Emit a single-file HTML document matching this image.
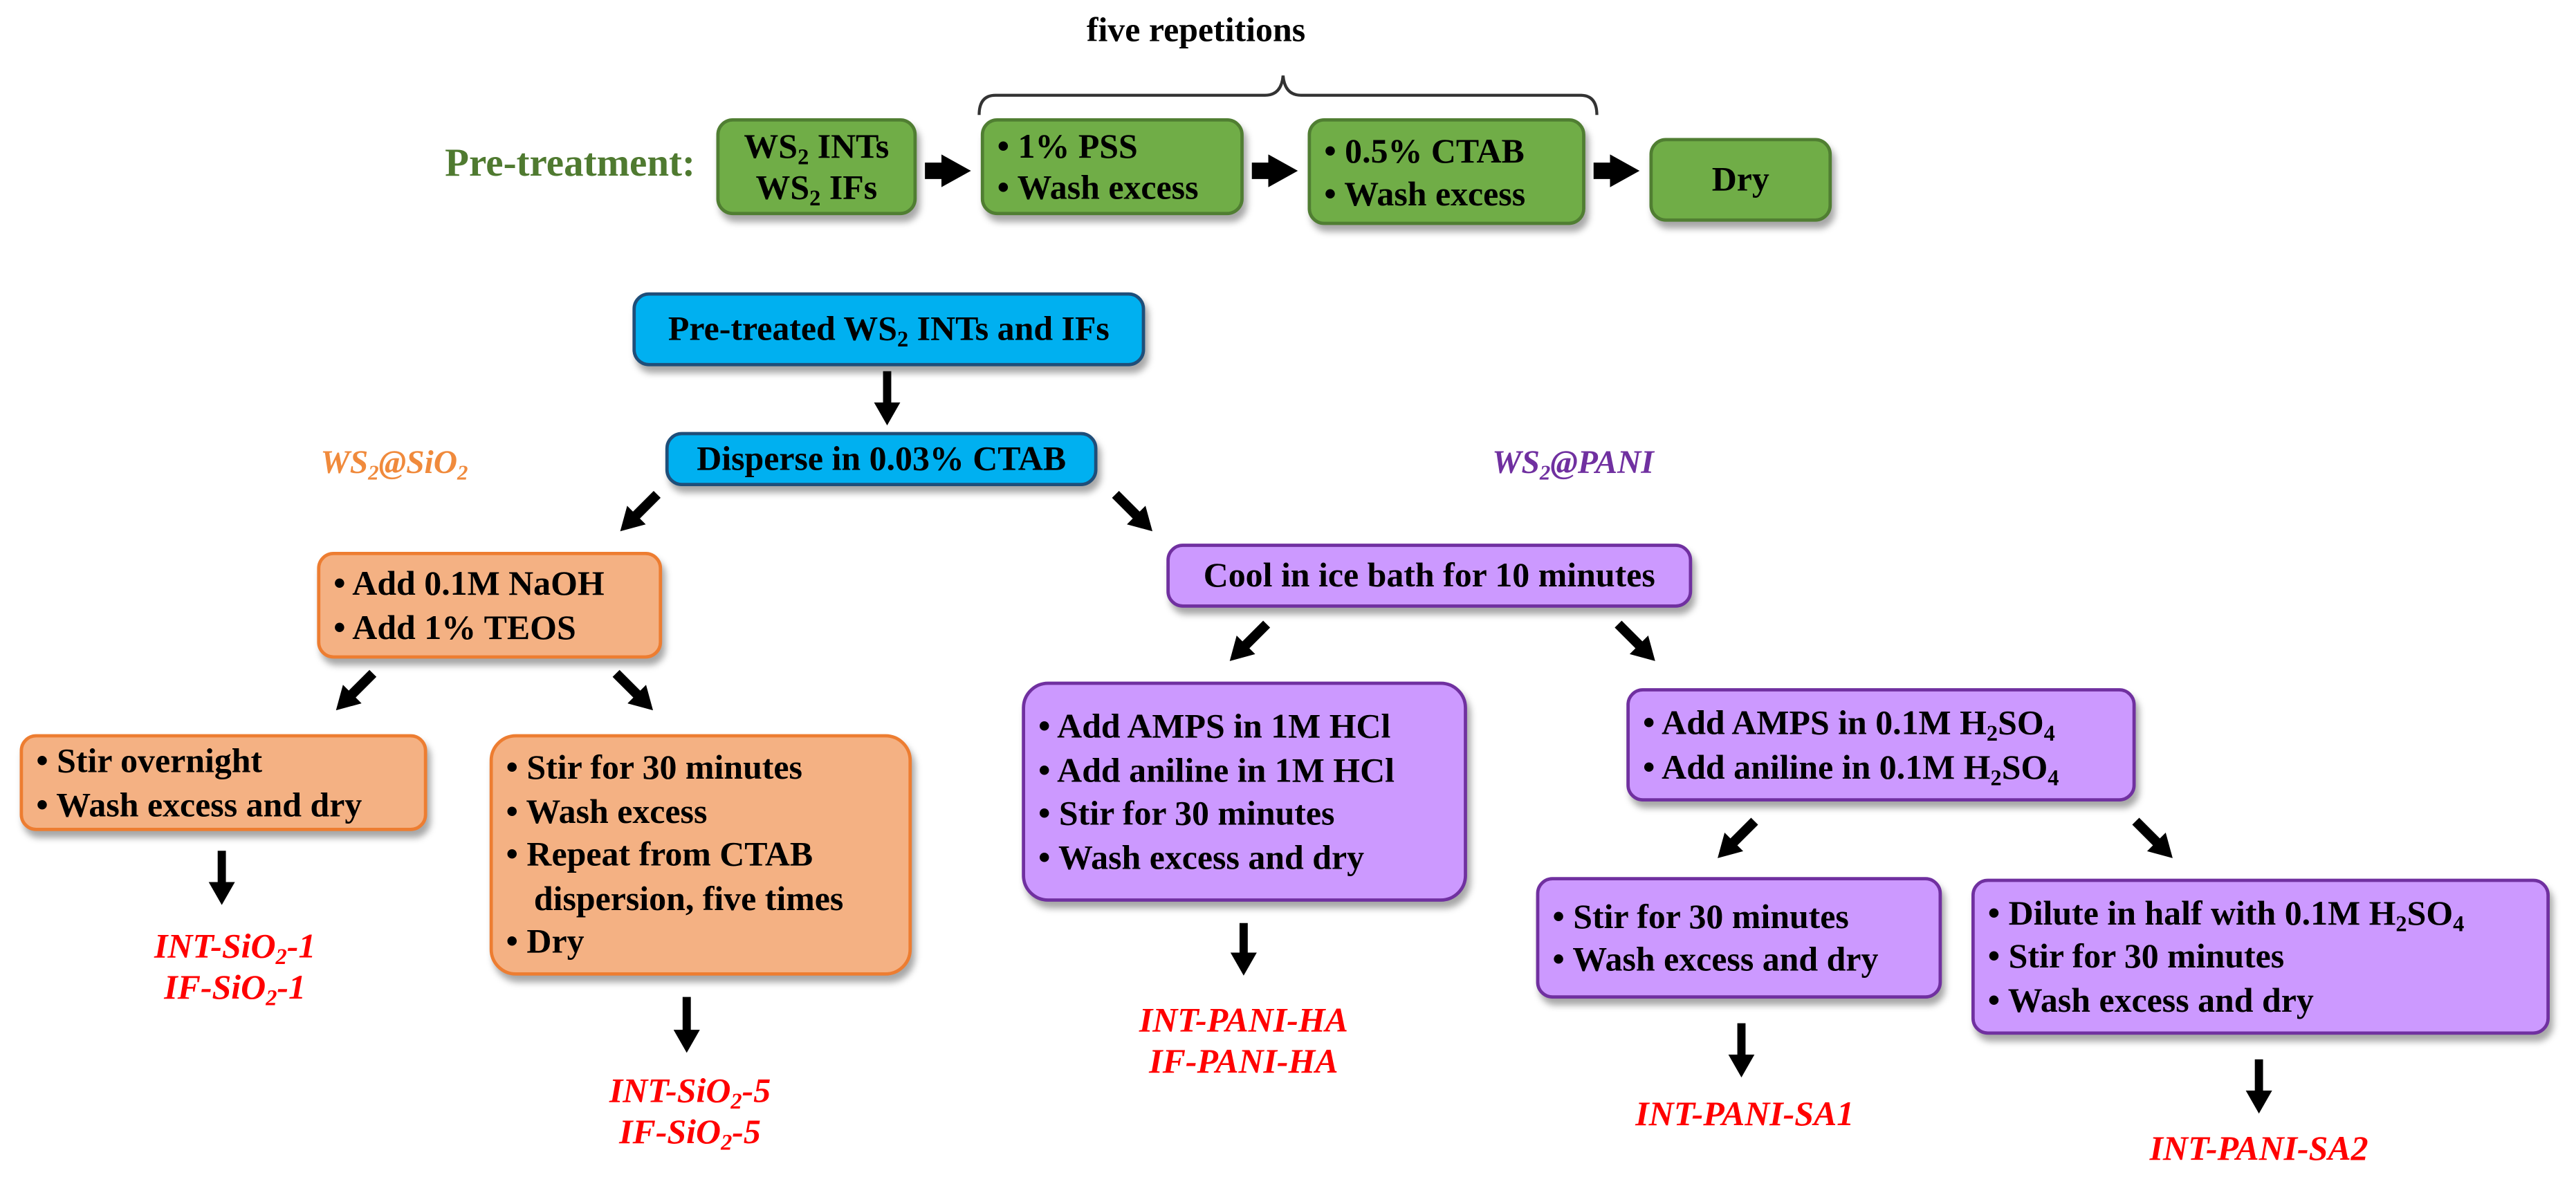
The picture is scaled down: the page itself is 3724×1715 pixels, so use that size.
<!DOCTYPE html>
<html><head><meta charset="utf-8"><style>
html,body{margin:0;padding:0;background:#fff;overflow:hidden}
body{width:3724px;height:1713px}
#s{position:absolute;left:0;top:0;width:1568px;height:722px;transform:scale(2.375);transform-origin:0 0;font-family:"Liberation Serif",serif;font-weight:bold;color:#000}
.b{position:absolute;box-sizing:border-box;border-radius:10px;border:2px solid;box-shadow:2px 4px 4px rgba(0,0,0,.35);display:flex;flex-direction:column;justify-content:center;font-size:21px;line-height:26.5px}
.g{background:#70ad47;border-color:#507e32}
.bl{background:#00b0f0;border-color:#1f4e79;align-items:center}
.o{background:#f4b183;border-color:#ed7d31}
.p{background:#cc99ff;border-color:#7030a0}
.c{align-items:center;text-align:center}
.l{padding-left:8px}
.l div{padding-left:17px;text-indent:-17px}
sub{font-size:65%;vertical-align:-4px;line-height:0}
.t{position:absolute;white-space:nowrap;text-align:center;font-size:21px;line-height:25px}
.r{color:#ff0000;font-style:italic}
svg{position:absolute;left:0;top:0}
</style></head><body><div id="s">
<div class="t" style="left:628px;top:6px;width:200px;font-size:21px">five repetitions</div>
<div class="t" style="left:262px;top:88px;width:170px;font-size:24px;color:#4f7a30">Pre-treatment:</div>
<div class="b g c" style="left:436px;top:72px;width:122px;height:59px;line-height:25px"><div>WS<sub>2</sub> INTs</div><div>WS<sub>2</sub> IFs</div></div>
<div class="b g l" style="left:597px;top:72px;width:160px;height:59px;line-height:25px"><div>• 1% PSS</div><div>• Wash excess</div></div>
<div class="b g l" style="left:796px;top:72px;width:169px;height:65px;line-height:26px"><div>• 0.5% CTAB</div><div>• Wash excess</div></div>
<div class="b g c" style="left:1004px;top:84px;width:111px;height:51px"><div>Dry</div></div>

<div class="b bl" style="left:385px;top:178px;width:312px;height:45px"><div style="white-space:nowrap">Pre-treated WS<sub>2</sub> INTs and IFs</div></div>
<div class="b bl" style="left:405px;top:263px;width:263px;height:33px"><div style="white-space:nowrap">Disperse in 0.03% CTAB</div></div>
<div class="t" style="left:180px;top:270px;width:120px;color:#f08a3c;font-style:italic;font-size:20px">WS<sub>2</sub>@SiO<sub>2</sub></div>
<div class="t" style="left:895px;top:270px;width:125px;color:#7030a0;font-style:italic;font-size:20px">WS<sub>2</sub>@PANI</div>

<div class="b o l" style="left:193px;top:336px;width:210px;height:65px"><div>• Add 0.1M NaOH</div><div>• Add 1% TEOS</div></div>
<div class="b p c" style="left:710px;top:331px;width:320px;height:39px"><div>Cool in ice bath for 10 minutes</div></div>

<div class="b o l" style="left:12px;top:447px;width:248px;height:59px"><div>• Stir overnight</div><div>• Wash excess and dry</div></div>
<div class="b o l" style="left:298px;top:447px;width:257px;height:147px;border-radius:16px"><div>• Stir for 30 minutes</div><div>• Wash excess</div><div>• Repeat from CTAB dispersion, five times</div><div>• Dry</div></div>
<div class="b p l" style="left:622px;top:415px;width:271px;height:134px;border-radius:16px"><div>• Add AMPS in 1M HCl</div><div>• Add aniline in 1M HCl</div><div>• Stir for 30 minutes</div><div>• Wash excess and dry</div></div>
<div class="b p l" style="left:990px;top:419px;width:310px;height:69px"><div>• Add AMPS in 0.1M H<sub>2</sub>SO<sub>4</sub></div><div>• Add aniline in 0.1M H<sub>2</sub>SO<sub>4</sub></div></div>
<div class="b p l" style="left:935px;top:534px;width:247px;height:74px"><div>• Stir for 30 minutes</div><div>• Wash excess and dry</div></div>
<div class="b p l" style="left:1200px;top:535px;width:352px;height:95px"><div>• Dilute in half with 0.1M H<sub>2</sub>SO<sub>4</sub></div><div>• Stir for 30 minutes</div><div>• Wash excess and dry</div></div>

<div class="t r" style="left:63px;top:564px;width:160px">INT-SiO<sub>2</sub>-1</div>
<div class="t r" style="left:63px;top:589px;width:160px">IF-SiO<sub>2</sub>-1</div>
<div class="t r" style="left:340px;top:652px;width:160px">INT-SiO<sub>2</sub>-5</div>
<div class="t r" style="left:340px;top:677px;width:160px">IF-SiO<sub>2</sub>-5</div>
<div class="t r" style="left:667px;top:609px;width:180px">INT-PANI-HA</div>
<div class="t r" style="left:667px;top:634px;width:180px">IF-PANI-HA</div>
<div class="t r" style="left:972px;top:666px;width:180px">INT-PANI-SA1</div>
<div class="t r" style="left:1285px;top:687px;width:180px">INT-PANI-SA2</div>

<svg width="1568" height="722" viewBox="0 0 1568 722">
<defs>
<marker id="h" markerUnits="userSpaceOnUse" markerWidth="18" markerHeight="20" refX="3" refY="10" orient="auto"><path d="M0,0L18,10L0,20z" fill="#000"/></marker>
<marker id="d" markerUnits="userSpaceOnUse" markerWidth="14" markerHeight="16" refX="2" refY="8" orient="auto"><path d="M0,0L14,8L0,16z" fill="#000"/></marker>
</defs>
<path d="M596,70 Q596,58 606,58 L770,58 Q780,58 781,46 Q782,58 792,58 L962,58 Q972,58 972,70" fill="none" stroke="#333" stroke-width="1.8"/>
<g stroke="#000" stroke-width="10" marker-end="url(#h)">
<line x1="563" y1="104" x2="576" y2="104"/>
<line x1="762" y1="104" x2="775" y2="104"/>
<line x1="970" y1="104" x2="983" y2="104"/>
</g>
<g stroke="#000" stroke-width="5" marker-end="url(#d)">
<line x1="540" y1="226" x2="540" y2="247"/>
<line x1="135" y1="518" x2="135" y2="539"/>
<line x1="418" y1="607" x2="418" y2="629"/>
<line x1="757" y1="562" x2="757" y2="582"/>
<line x1="1060" y1="623" x2="1060" y2="644"/>
<line x1="1375" y1="645" x2="1375" y2="666"/>
</g>
<g stroke="#000" stroke-width="6" marker-end="url(#d)">
<line x1="400" y1="301" x2="386" y2="315"/>
<line x1="679" y1="301" x2="693" y2="315"/>
<line x1="227" y1="410" x2="213" y2="424"/>
<line x1="375" y1="410" x2="389" y2="424"/>
<line x1="771" y1="380" x2="757" y2="394"/>
<line x1="985" y1="380" x2="999" y2="394"/>
<line x1="1068" y1="500" x2="1054" y2="514"/>
<line x1="1300" y1="500" x2="1314" y2="514"/>
</g>
</svg>
</div></body></html>
